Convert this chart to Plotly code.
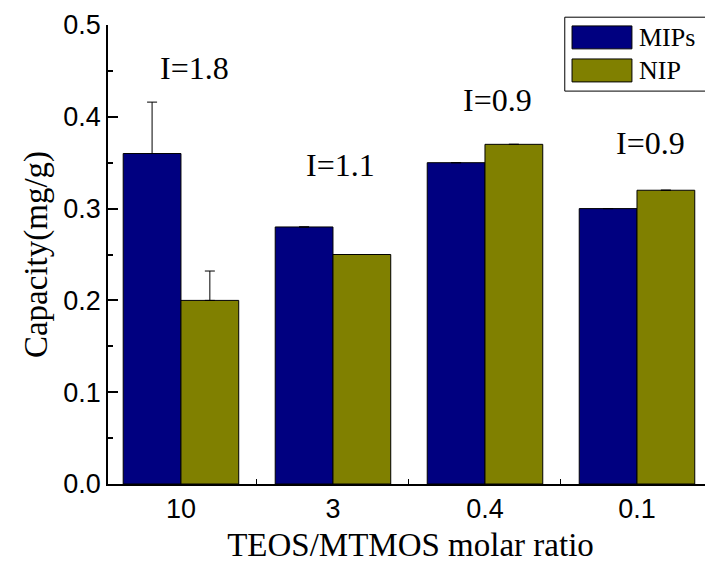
import plotly.graph_objects as go

categories = ["10", "3", "0.4", "0.1"]
mips = [0.36, 0.28, 0.35, 0.30]
nip = [0.20, 0.25, 0.37, 0.32]
mips_err = [0.056, 0, 0, 0]
nip_err = [0.032, 0, 0, 0]
i_labels = ["I=1.8", "I=1.1", "I=0.9", "I=0.9"]
i_label_y = [0.453, 0.347, 0.418, 0.372]
i_label_dx = [0.09, 0.05, 0.08, 0.09]

serif = "Liberation Serif, Times New Roman, serif"
sans = "Liberation Sans, Arial, sans-serif"

fig = go.Figure()
fig.add_trace(go.Bar(
    x=list(range(len(categories))), y=mips, name="MIPs",
    marker=dict(color="#000080", line=dict(color="black", width=1)),
    error_y=dict(type="data", array=mips_err, symmetric=False,
                 arrayminus=[0] * 4, color="black", thickness=1, width=5),
))
fig.add_trace(go.Bar(
    x=list(range(len(categories))), y=nip, name="NIP",
    marker=dict(color="#808000", line=dict(color="black", width=1)),
    error_y=dict(type="data", array=nip_err, symmetric=False,
                 arrayminus=[0] * 4, color="black", thickness=1, width=5),
))

for i, (t, yv, dx) in enumerate(zip(i_labels, i_label_y, i_label_dx)):
    fig.add_annotation(x=i + dx, y=yv, xref="x", yref="y", text=t,
                       showarrow=False, font=dict(family=serif, size=32, color="black"))

# legend box (manual, large swatches)
fig.add_shape(type="rect", xref="paper", yref="paper", x0=0.755, x1=0.992, y0=0.856, y1=1.017,
              line=dict(color="black", width=1), fillcolor="white")
for (name, color, y0, y1) in [("MIPs", "#000080", 0.948, 0.998), ("NIP", "#808000", 0.876, 0.926)]:
    fig.add_shape(type="rect", xref="paper", yref="paper", x0=0.767, x1=0.866, y0=y0, y1=y1,
                  line=dict(color="black", width=1), fillcolor=color)
    fig.add_annotation(xref="paper", yref="paper", x=0.874, y=(y0 + y1) / 2, text=name,
                       showarrow=False, xanchor="left", yanchor="middle",
                       font=dict(family=serif, size=26, color="black"))

fig.update_layout(
    width=705, height=559,
    margin=dict(l=100, r=0, t=17, b=83),
    paper_bgcolor="white", plot_bgcolor="white",
    barmode="group", bargap=0.24, bargroupgap=0,
    showlegend=False,
    xaxis=dict(
        range=[-0.48, 3.5], tickmode="array", tickvals=list(range(len(categories))),
        ticktext=categories, showgrid=False, zeroline=False, automargin=False,
        showline=True, linecolor="black", linewidth=1.5,
        ticks="", tickfont=dict(family=sans, size=27, color="black"),
        title=dict(text="TEOS/MTMOS molar ratio", font=dict(family=serif, size=33, color="black"),
                   standoff=10),
        minor=dict(tickvals=[0.5, 1.5, 2.5], ticks="inside", ticklen=5, tickcolor="black", tickwidth=1),
    ),
    yaxis=dict(
        range=[0, 0.5], dtick=0.1, tickformat=".1f", showgrid=False, zeroline=False, automargin=False,
        showline=True, linecolor="black", linewidth=1.5,
        ticks="inside", ticklen=10, tickwidth=1.5, tickcolor="black",
        minor=dict(dtick=0.05, ticks="inside", ticklen=5, tickcolor="black", tickwidth=1.5),
        tickfont=dict(family=sans, size=27, color="black"),
        title=dict(text="Capacity(mg/g)", font=dict(family=serif, size=33, color="black"),
                   standoff=6),
    ),
)

fig.write_html("out.html")
